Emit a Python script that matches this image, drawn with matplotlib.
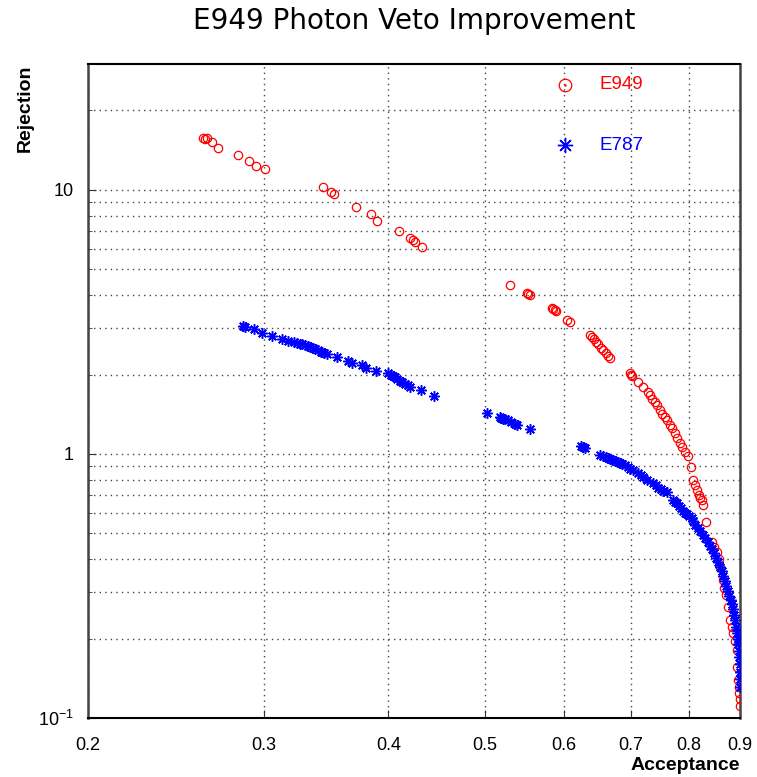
import numpy as np
import matplotlib
matplotlib.use('Agg')
import matplotlib.pyplot as plt
from matplotlib.ticker import FixedLocator, FixedFormatter, NullLocator

plt.rcParams['font.family'] = ['Liberation Sans', 'DejaVu Sans']
plt.rcParams['mathtext.fontset'] = 'custom'
plt.rcParams['mathtext.rm'] = 'Liberation Sans'

# E949 points (acceptance, rejection)
e949_acc = [0.261, 0.262, 0.263, 0.266, 0.270, 0.283, 0.290, 0.295, 0.301,
            0.344, 0.350, 0.353, 0.371, 0.384, 0.390, 0.410, 0.420, 0.423,
            0.425, 0.432, 0.530, 0.550, 0.552, 0.554, 0.583, 0.585, 0.587,
            0.589, 0.604, 0.608, 0.637, 0.639, 0.642, 0.645, 0.649, 0.653,
            0.656, 0.660, 0.663, 0.667, 0.698, 0.700, 0.702, 0.712, 0.720,
            0.728, 0.731, 0.735, 0.739, 0.743, 0.748, 0.752, 0.757, 0.761,
            0.766, 0.770, 0.775, 0.779, 0.784, 0.788, 0.793, 0.798, 0.804,
            0.808, 0.811, 0.815, 0.818, 0.821, 0.824, 0.826, 0.832, 0.844,
            0.848, 0.853, 0.857, 0.860, 0.865, 0.868, 0.871, 0.876, 0.880,
            0.883, 0.886, 0.890, 0.893, 0.894, 0.896, 0.897, 0.898, 0.899,
            0.899]
e949_rej = [15.8, 15.6, 15.7, 15.2, 14.4, 13.6, 12.9, 12.3, 12.0,
            10.3, 9.85, 9.68, 8.64, 8.09, 7.63, 6.99, 6.56, 6.46,
            6.35, 6.07, 4.37, 4.06, 4.03, 4.00, 3.57, 3.53, 3.50,
            3.47, 3.22, 3.15, 2.82, 2.78, 2.72, 2.66, 2.60, 2.52,
            2.47, 2.41, 2.36, 2.30, 2.02, 2.00, 1.98, 1.88, 1.79,
            1.71, 1.67, 1.62, 1.57, 1.53, 1.47, 1.42, 1.38, 1.34,
            1.29, 1.25, 1.20, 1.15, 1.10, 1.06, 1.02, 0.983, 0.895,
            0.797, 0.765, 0.731, 0.700, 0.680, 0.669, 0.641, 0.551, 0.466,
            0.445, 0.427, 0.400, 0.374, 0.333, 0.312, 0.292, 0.264, 0.235,
            0.222, 0.210, 0.195, 0.181, 0.156, 0.139, 0.131, 0.124, 0.111,
            0.118]

# E787 points
e787_acc = [0.286, 0.287, 0.293, 0.299, 0.306, 0.313, 0.317, 0.322, 0.324,
            0.326, 0.328, 0.330, 0.332, 0.334, 0.336, 0.338, 0.340, 0.342,
            0.343, 0.345, 0.347, 0.355, 0.364, 0.368, 0.376, 0.380, 0.389,
            0.400, 0.402, 0.404, 0.406, 0.408, 0.411, 0.413, 0.416, 0.418,
            0.420, 0.431, 0.444, 0.502, 0.517, 0.519, 0.521, 0.523, 0.527,
            0.531, 0.535, 0.538, 0.555, 0.624, 0.626, 0.629, 0.652, 0.656,
            0.660, 0.663, 0.667, 0.671, 0.675, 0.679, 0.682, 0.686, 0.690,
            0.695, 0.699, 0.703, 0.712, 0.716, 0.720, 0.727, 0.737, 0.741,
            0.745, 0.750, 0.754, 0.760, 0.771, 0.775, 0.778, 0.782, 0.786,
            0.790, 0.793, 0.797, 0.801, 0.805, 0.808, 0.812, 0.817, 0.821,
            0.826, 0.830, 0.835, 0.840, 0.844, 0.848, 0.852, 0.856, 0.860,
            0.863, 0.866, 0.869, 0.872, 0.875, 0.878, 0.881, 0.884, 0.886,
            0.888, 0.890, 0.892, 0.894, 0.895, 0.896, 0.897, 0.898, 0.899,
            0.899, 0.899, 0.899]
e787_rej = [3.04, 3.02, 2.97, 2.87, 2.80, 2.72, 2.68, 2.66, 2.64,
            2.62, 2.60, 2.59, 2.56, 2.54, 2.52, 2.50, 2.47, 2.44,
            2.43, 2.41, 2.39, 2.32, 2.25, 2.22, 2.17, 2.12, 2.07,
            2.02, 2.00, 1.98, 1.96, 1.93, 1.89, 1.87, 1.84, 1.82,
            1.79, 1.74, 1.66, 1.43, 1.38, 1.37, 1.36, 1.36, 1.34,
            1.32, 1.30, 1.29, 1.24, 1.07, 1.06, 1.05, 0.991, 0.980,
            0.970, 0.963, 0.957, 0.948, 0.940, 0.930, 0.925, 0.915, 0.905,
            0.893, 0.880, 0.870, 0.845, 0.830, 0.816, 0.800, 0.776, 0.760,
            0.745, 0.735, 0.726, 0.718, 0.669, 0.660, 0.650, 0.635, 0.625,
            0.610, 0.600, 0.590, 0.580, 0.570, 0.555, 0.540, 0.525, 0.510,
            0.495, 0.480, 0.465, 0.450, 0.435, 0.420, 0.405, 0.390, 0.374,
            0.360, 0.345, 0.330, 0.315, 0.303, 0.290, 0.280, 0.270, 0.258,
            0.246, 0.235, 0.222, 0.210, 0.200, 0.190, 0.180, 0.170, 0.160,
            0.150, 0.140, 0.131]

x_ticks = [0.2, 0.3, 0.4, 0.5, 0.6, 0.7, 0.8, 0.9]
x_labels = ['0.2', '0.3', '0.4', '0.5', '0.6', '0.7', '0.8', '0.9']
y_major = [0.1, 1, 10]
y_labels = [r'$\mathregular{10^{-1}}$', '1', '10']
y_minor = [0.2, 0.3, 0.4, 0.5, 0.6, 0.7, 0.8, 0.9,
           2, 3, 4, 5, 6, 7, 8, 9, 20]

fig = plt.figure(figsize=(7.57, 7.77), dpi=100)
ax = fig.add_axes([88/757, 59/777, 652/757, 654/777])

ax.set_xscale('log')
ax.set_yscale('log')
ax.set_xlim(0.2, 0.9)
ax.set_ylim(0.1, 30)

ax.plot(e949_acc, e949_rej, 'o', ls='none', mfc='none', mec='#ff0000',
        ms=6, mew=0.9, zorder=3)
ax.plot(e787_acc, e787_rej, marker=(8, 2, 0), ls='none', color='#0000ff',
        ms=7.5, mew=1.1, zorder=4)

ax.xaxis.set_major_locator(FixedLocator(x_ticks))
ax.xaxis.set_major_formatter(FixedFormatter(x_labels))
ax.xaxis.set_minor_locator(NullLocator())
ax.yaxis.set_major_locator(FixedLocator(y_major))
ax.yaxis.set_major_formatter(FixedFormatter(y_labels))
ax.yaxis.set_minor_locator(FixedLocator(y_minor))

ax.grid(True, which='both', ls=(0, (1, 3)), color='#444444', lw=1.0)
ax.tick_params(which='both', direction='in', labelsize=13, color='#333333')
ax.tick_params(which='major', length=6)
ax.tick_params(which='minor', length=3)
ax.tick_params(axis='x', pad=14)
ax.tick_params(axis='y', pad=10)

for side in ['top', 'bottom']:
    ax.spines[side].set_linewidth(1.5)
for side in ['left', 'right']:
    ax.spines[side].set_linewidth(1.8)
    ax.spines[side].set_color('#444444')

# axis titles sit where ROOT puts them: end of axis, outside
fig.text(740/757, 1 - 765/777, 'Acceptance', fontsize=14, fontweight='bold',
         ha='right', va='center')
fig.text(25/757, 1 - 64/777, 'Rejection', fontsize=14, fontweight='bold',
         rotation=90, ha='center', va='top')

fig.text(414/757, 1 - 21/777, 'E949 Photon Veto Improvement', fontsize=20,
         family=['DejaVu Sans'], ha='center', va='center')

# legend drawn by hand to keep the layout of the original
ax.plot([0.7316], [0.968], 'o', mfc='none', mec='#ff0000', ms=9, mew=0.9,
        transform=ax.transAxes, clip_on=False)
ax.plot([0.7316], [0.968], '.', color='#ff0000', ms=1.5,
        transform=ax.transAxes, clip_on=False)
ax.plot([0.7316], [0.876], marker=(8, 2, 0), color='#0000ff', ms=11,
        mew=1.0, transform=ax.transAxes, clip_on=False)
ax.text(0.785, 0.968, 'E949', color='#ff0000', fontsize=13.5,
        va='center', transform=ax.transAxes)
ax.text(0.785, 0.876, 'E787', color='#0000ff', fontsize=13.5,
        va='center', transform=ax.transAxes)

fig.savefig('out.png', dpi=100)
